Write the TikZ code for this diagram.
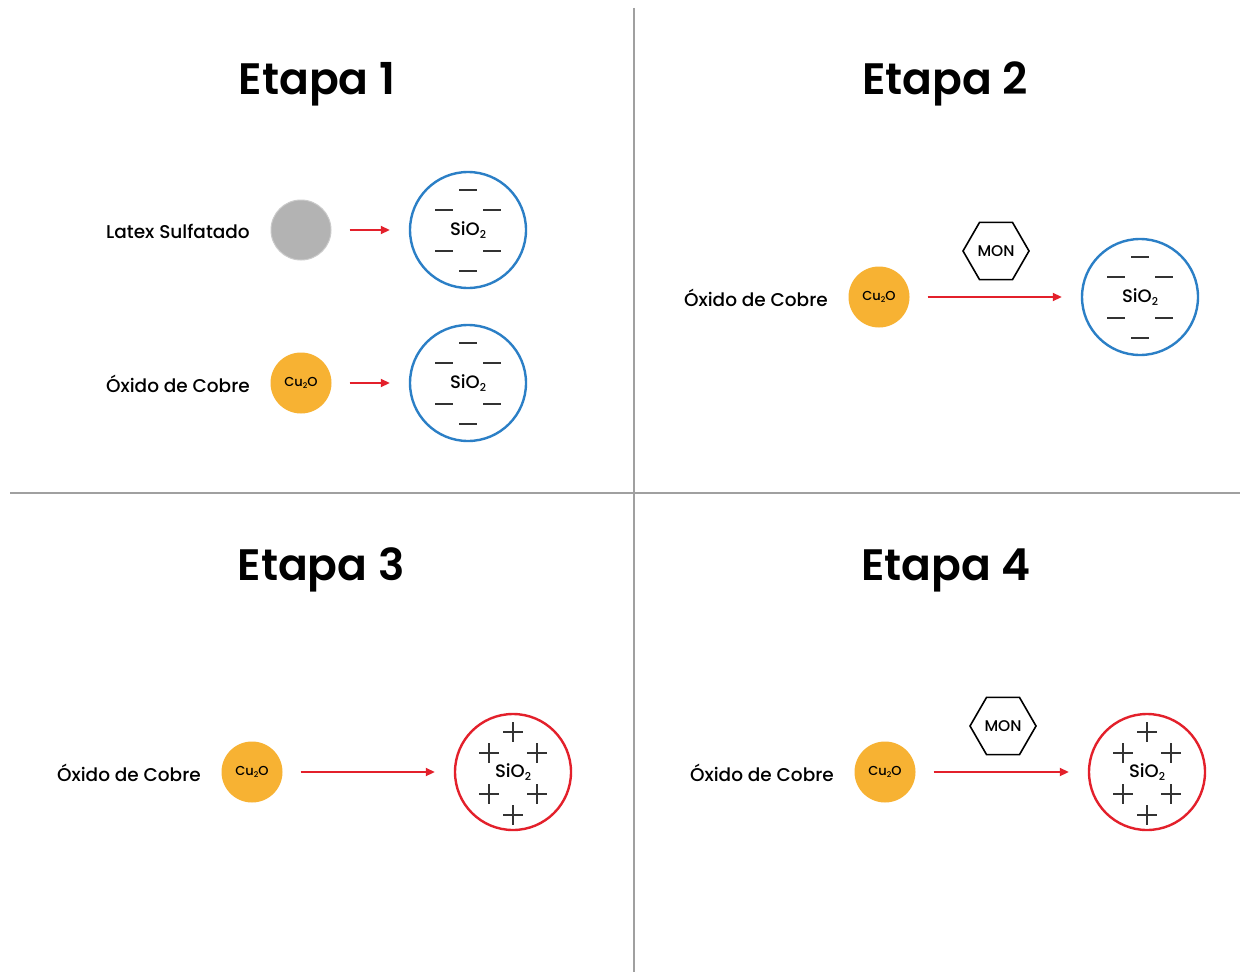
\documentclass[tikz,border=0pt]{standalone}
\usepackage{fontspec}
\setmainfont{Poppins}[BoldFont={Poppins SemiBold}]
\newfontfamily\pmed{Poppins Medium}
\usetikzlibrary{arrows.meta,shapes.geometric}
\definecolor{sep}{HTML}{A0A0A0}
\definecolor{bluec}{HTML}{2B7FC6}
\definecolor{redc}{HTML}{E3202B}
\definecolor{orangec}{HTML}{F7B233}
\definecolor{grayc}{HTML}{B3B3B3}
\definecolor{chg}{HTML}{333333}
\tikzset{
  title/.style={font=\fontsize{44}{48}\selectfont\bfseries, inner sep=0pt},
  lbl/.style={font=\pmed\fontsize{18.5}{20}\selectfont, anchor=east, inner sep=0pt},
  grayball/.style={circle, fill=grayc, draw=grayc!70!white, line width=1pt, minimum size=60pt, inner sep=0pt},
  cuball/.style={circle, fill=orangec, minimum size=61pt, inner sep=0pt, font=\pmed\fontsize{13}{14}\selectfont},
  negcirc/.style={circle, draw=bluec, line width=2.4pt, minimum size=116pt, inner sep=0pt, font=\pmed\fontsize{18}{19}\selectfont},
  poscirc/.style={circle, draw=redc, line width=2.4pt, minimum size=116pt, inner sep=0pt, font=\pmed\fontsize{18}{19}\selectfont},
  arr/.style={draw=redc, line width=1.8pt, -{Triangle[length=9pt,width=8pt]}, shorten <=18pt, shorten >=19pt},
  hexa/.style={regular polygon, regular polygon sides=6, draw=black, line width=1.6pt, minimum size=66pt, inner sep=0pt, font=\pmed\fontsize{15.5}{16}\selectfont},
  chgline/.style={draw=chg, line width=1.9pt},
}
\newcommand{\lowsub}[1]{\raisebox{-0.35ex}{\scalebox{0.6}{#1}}}
\newcommand{\sio}{SiO\lowsub{2}}
\newcommand{\cuo}{Cu\lowsub{2}O}
\newcommand{\minuses}[1]{%
  \foreach \dx/\dy in {0/-40,-24/-20,24/-20,-24/21,24/21,0/41}{
    \draw[chgline] ([shift={(\dx-9,\dy)}]#1.center) -- ([shift={(\dx+9,\dy)}]#1.center);
  }}
\newcommand{\pluses}[1]{%
  \foreach \dx/\dy in {0/-40,-24/-19,24/-19,-24/22,24/22,0/43}{
    \draw[chgline] ([shift={(\dx-10,\dy)}]#1.center) -- ([shift={(\dx+10,\dy)}]#1.center);
    \draw[chgline] ([shift={(\dx,\dy-10)}]#1.center) -- ([shift={(\dx,\dy+10)}]#1.center);
  }}
\begin{document}
\begin{tikzpicture}[x=1pt,y=-1pt]
\useasboundingbox (0,0) rectangle (1241,974);
\fill[white] (0,0) rectangle (1241,974);
% separators
\coordinate (vt) at (634,8);
\coordinate (vb) at (634,972);
\coordinate (hl) at (10,493);
\coordinate (hr) at (1240,493);
\draw[sep, line width=1.2pt] (vt) -- (vb);
\draw[sep, line width=1.2pt] (hl) -- (hr);
% titles
\node[title] (t1) at (317,84) {Etapa 1};
\node[title] (t2) at (945,84) {Etapa 2};
\node[title] (t3) at (321,570) {Etapa 3};
\node[title] (t4) at (946,570) {Etapa 4};
% Etapa 1
\node[lbl] (l1) at (250,231) {Latex Sulfatado};
\node[grayball] (g1) at (301,230) {};
\node[negcirc] (s1) at (468,230) {\sio};
\draw[arr] (g1) -- (s1);
\minuses{s1}
\node[lbl] (l2) at (250,384) {Óxido de Cobre};
\node[cuball] (c1) at (301,383) {\cuo};
\node[negcirc] (s2) at (468,383) {\sio};
\draw[arr] (c1) -- (s2);
\minuses{s2}
% Etapa 2
\node[lbl] (l3) at (828,298) {Óxido de Cobre};
\node[cuball] (c2) at (879,297) {\cuo};
\node[negcirc] (s3) at (1140,297) {\sio};
\draw[arr] (c2) -- (s3);
\minuses{s3}
\node[hexa] (m1) at (996,251) {MON};
% Etapa 3
\node[lbl] (l4) at (201,773) {Óxido de Cobre};
\node[cuball] (c3) at (252,772) {\cuo};
\node[poscirc] (s4) at (513,772) {\sio};
\draw[arr] (c3) -- (s4);
\pluses{s4}
% Etapa 4
\node[lbl] (l5) at (834,773) {Óxido de Cobre};
\node[cuball] (c4) at (885,772) {\cuo};
\node[poscirc] (s5) at (1147,772) {\sio};
\draw[arr] (c4) -- (s5);
\pluses{s5}
\node[hexa] (m2) at (1003,726) {MON};
\end{tikzpicture}
\end{document}
